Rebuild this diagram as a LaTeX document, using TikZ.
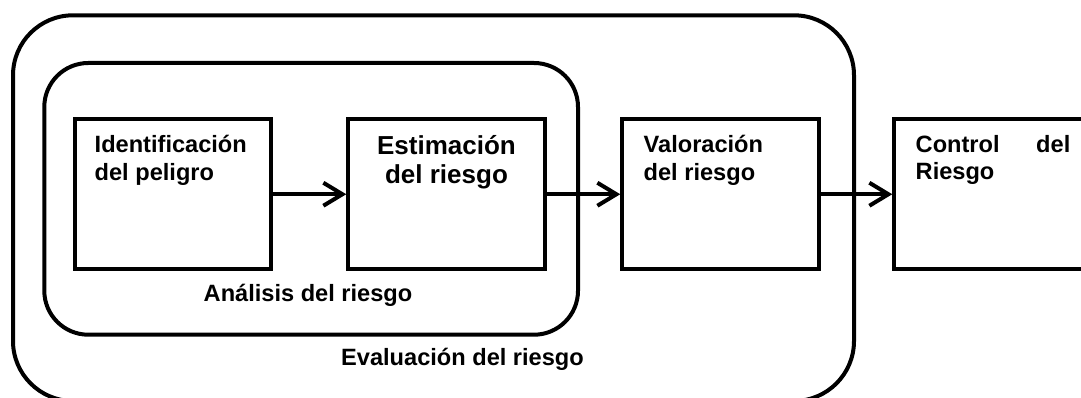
\documentclass[tikz,border=0pt]{standalone}
\usepackage{fontspec}
\setmainfont{Liberation Sans}
\usetikzlibrary{arrows.meta}
\begin{document}
\begin{tikzpicture}[x=1pt,y=-1pt,
  stepbox/.style={draw,line width=4pt,minimum width=196.5pt,minimum height=149.5pt,inner sep=0pt},
  frame/.style={draw,line width=4pt,inner sep=0pt},
  small/.style={font=\bfseries\fontsize{23.6}{28}\selectfont,inner sep=0pt},
  big/.style={font=\bfseries\fontsize{26}{30}\selectfont,inner sep=0pt},
  flow/.style={line width=4pt,-{Straight Barb[length=19pt,width=23pt]}}]
\useasboundingbox (0,0) rectangle (1081,398);
\clip (0,0) rectangle (1081,398);
% frames
\node[frame,rounded corners=60pt,minimum width=841pt,minimum height=385.7pt] (outer) at (433.5,208.15) {};
\node[frame,rounded corners=44pt,minimum width=533.7pt,minimum height=271.7pt] (inner) at (311.15,198.85) {};
% boxes
\node[stepbox] (b1) at (172.75,194.25) {};
\node[stepbox] (b2) at (446.5,194.25) {};
\node[stepbox] (b3) at (720.5,194.25) {};
\node[stepbox] (b4) at (992.5,194.25) {};
% arrows
\draw[flow] (b1.east) -- (b2.west);
\draw[flow] (b2.east) -- (b3.west);
\draw[flow] (b3.east) -- (b4.west);
% texts
\node[small,anchor=base west] (t1a) at (94.5,153) {Identificación};
\node[small,anchor=base west] (t1b) at (94.5,181) {del peligro};
\node[big,anchor=base] (t2a) at (446.5,155) {Estimación};
\node[big,anchor=base] (t2b) at (446.5,184) {del riesgo};
\node[small,anchor=base west] (t3a) at (643.5,153) {Valoración};
\node[small,anchor=base west] (t3b) at (643.5,181) {del riesgo};
\node[small,anchor=base west] (t4a) at (915.5,153) {Control};
\node[small,anchor=base east] (t4c) at (1070.5,153) {del};
\node[small,anchor=base west] (t4b) at (915.5,180) {Riesgo};
\node[small,anchor=base] (la) at (308,301.7) {Análisis del riesgo};
\node[small,anchor=base] (le) at (462.5,365) {Evaluación del riesgo};
\end{tikzpicture}
\end{document}
